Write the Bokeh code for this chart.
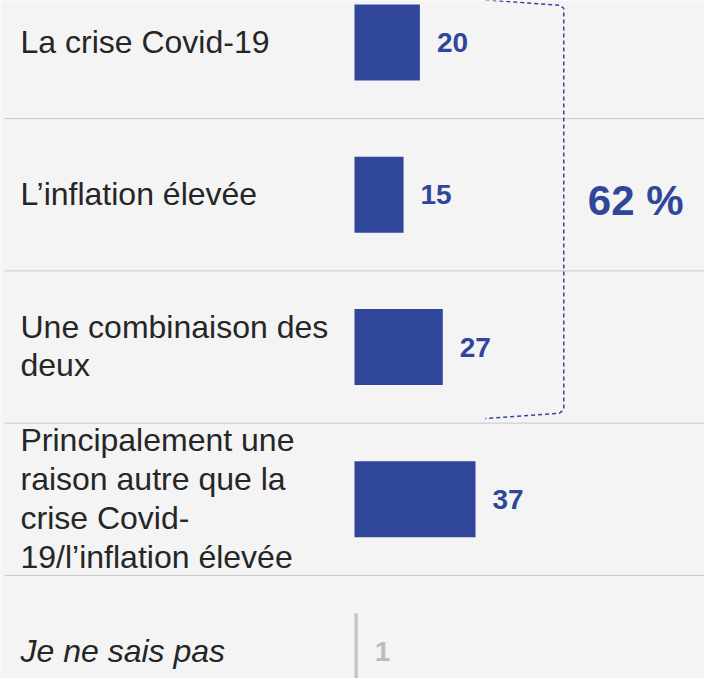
from bokeh.plotting import figure
from bokeh.models import Range1d, ColumnDataSource
from bokeh.core.properties import value
from bokeh.embed import file_html
from bokeh.resources import INLINE

# ---- data ----
categories = [
    "La crise Covid-19",
    "L\u2019inflation \u00e9lev\u00e9e",
    "Une combinaison des\ndeux",
    "Principalement une\nraison autre que la\ncrise Covid-\n19/l\u2019inflation \u00e9lev\u00e9e",
    "Je ne sais pas",
]
values = [20, 15, 27, 37, 1]
label_styles = ["normal", "normal", "normal", "normal", "italic"]
group_rows = [0, 1, 2]           # rows covered by the brace
group_total = sum(values[i] for i in group_rows)  # 62

BLUE = "#2f469b"
GREY = "#c4c4c4"
BG = "#f4f4f4"
W, H = 704, 678

rows = list(range(len(categories)))
bar_colors = [BLUE if v > 1 else GREY for v in values]
val_colors = [BLUE if v > 1 else "#bdbdbd" for v in values]

px_per_unit = 3.27
x0_px = 354
xr = Range1d(-x0_px / px_per_unit, (W - x0_px) / px_per_unit)
row_px = 152.25
top_px = 42
yr = Range1d((H - top_px) / row_px, -top_px / row_px)  # flipped: row 0 at top

p = figure(width=W, height=H, x_range=xr, y_range=yr,
           output_backend="svg", toolbar_location=None,
           min_border=0, outline_line_color=None)
p.axis.visible = False
p.grid.visible = False
p.background_fill_color = BG
p.border_fill_color = BG

# separators between rows
seps = [r + 0.5 for r in rows[:-1]]
p.segment(x0=[xr.start + 4 / px_per_unit] * len(seps), x1=[xr.end] * len(seps),
          y0=seps, y1=seps, line_color="#c8c8c8", line_width=1)

src = ColumnDataSource(dict(y=rows, v=values, c=bar_colors, vc=val_colors,
                            lab=categories, st=label_styles,
                            vt=[str(v) for v in values],
                            lx=[xr.start] * len(rows)))

p.hbar(y="y", left=0, right="v", height=0.5, fill_color="c", line_color=None, source=src)

p.text(x="v", y="y", text="vt", text_color="vc", source=src,
       text_font=value("Liberation Sans"), text_font_style="bold",
       text_font_size="28px", text_align="left", text_baseline="middle",
       x_offset=17, y_offset=0)

p.text(x="lx", y="y", text="lab", text_font_style="st", source=src,
       text_color="#262626", text_font=value("Liberation Sans"),
       text_font_size="32px", text_align="left", text_baseline="middle",
       text_line_height=1.08, x_offset=20, y_offset=-1)

# brace around the grouped rows
gmax = max(values[i] for i in group_rows)
bx_start = gmax + 13
bx_vert = gmax + 37
ytop = group_rows[0] - 0.28
ybot = group_rows[-1] + 0.47
bxs = [bx_start, bx_vert - 1.3, bx_vert, bx_vert, bx_vert - 1.3, bx_start]
bys = [ytop, ytop + 0.035, ytop + 0.055, ybot - 0.06, ybot - 0.035, ybot]
p.line(bxs, bys, line_color=BLUE, line_width=1.5, line_dash="4 3")

mid_row = (group_rows[0] + group_rows[-1]) / 2
p.text(x=[bx_vert], y=[mid_row], text=[f"{group_total} %"], text_color=BLUE,
       text_font=value("Liberation Sans"), text_font_style="bold",
       text_font_size="42px", text_align="left", text_baseline="middle",
       x_offset=24, y_offset=6)

open("out.html", "w").write(file_html(p, INLINE))
